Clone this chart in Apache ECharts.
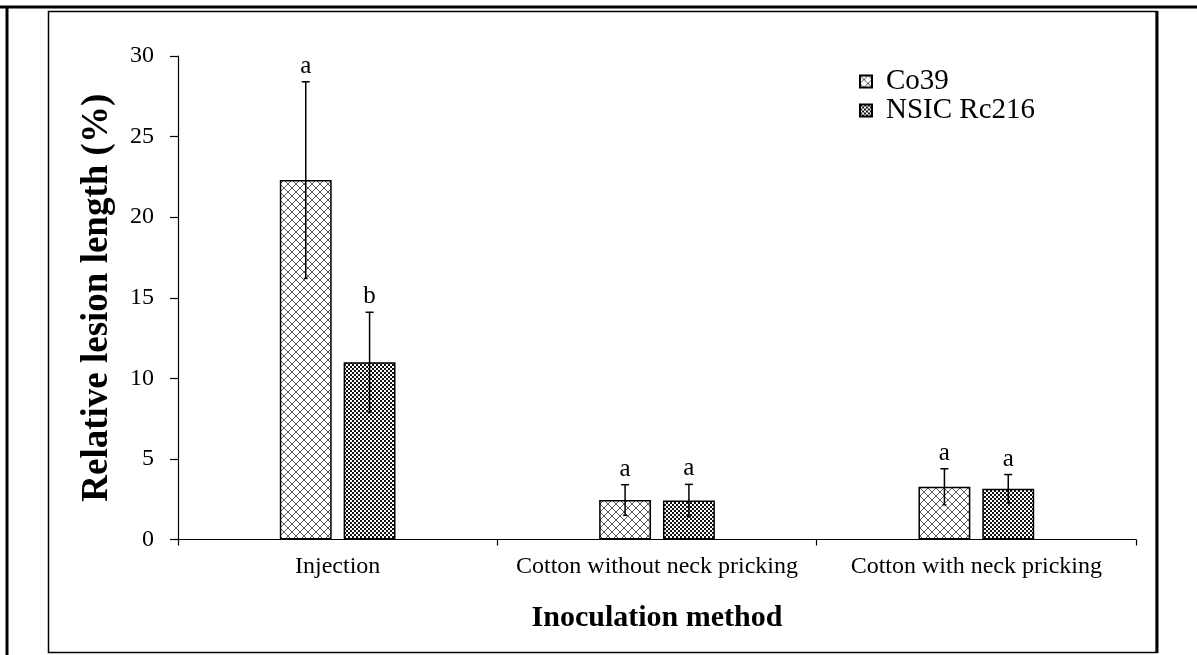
<!DOCTYPE html>
<html>
<head>
<meta charset="utf-8">
<script src="https://cdn.jsdelivr.net/npm/echarts@6/dist/echarts.min.js"></script>
<style>
html,body{margin:0;padding:0;background:#fff;}
#chart{width:1197px;height:655px;}
</style>
</head>
<body>
<div id="chart"></div>
<script>
// ---- data ----
var categories = ['Injection', 'Cotton without neck pricking', 'Cotton with neck pricking'];
var seriesNames = ['Co39', 'NSIC Rc216'];
var co39Values = [22.3, 2.45, 3.27];
var co39Errors = [6.1, 0.95, 1.12];
var co39Letters = ['a', 'a', 'a'];
var nsicValues = [11.0, 2.42, 3.15];
var nsicErrors = [3.1, 1.0, 0.88];
var nsicLetters = ['b', 'a', 'a'];
var yTicks = [0, 5, 10, 15, 20, 25, 30];

// ---- style constants ----
var BAR_W = 0.1625;   // bar width fraction of band
var GAP = 0.23;       // gap fraction of bar width
var SERIF = '"Liberation Serif", "DejaVu Serif", serif';

function makePattern(kind) {
  var c = document.createElement('canvas');
  var ctx = c.getContext('2d');
  if (kind === 'hatch') {
    c.width = 8; c.height = 8;
    ctx.fillStyle = '#fff'; ctx.fillRect(0, 0, 8, 8);
    ctx.strokeStyle = '#5a5a5a'; ctx.lineWidth = 1;
    ctx.beginPath();
    ctx.moveTo(0, 0); ctx.lineTo(8, 8);
    ctx.moveTo(8, 0); ctx.lineTo(0, 8);
    ctx.stroke();
  } else {
    c.width = 4; c.height = 4;
    ctx.fillStyle = '#fff'; ctx.fillRect(0, 0, 4, 4);
    ctx.fillStyle = '#111';
    ctx.fillRect(0, 0, 2, 2); ctx.fillRect(2, 2, 2, 2);
  }
  return { image: c, repeat: 'repeat' };
}
var pat1 = makePattern('hatch');
var pat2 = makePattern('check');

function errSeries(values, errors, letters, sign) {
  var data = values.map(function (v, i) { return [i, v, errors[i]]; });
  return {
    type: 'custom',
    silent: true,
    z: 10,
    data: data,
    renderItem: function (params, api) {
      var idx = api.value(0), v = api.value(1), e = api.value(2);
      var band = api.size([1, 0])[0];
      var bw = band * BAR_W;
      var off = sign * (bw + bw * GAP) / 2;
      var top = api.coord([idx, v + e]);
      var bot = api.coord([idx, v - e]);
      var x = top[0] + off;
      var cap = 4;
      var st = { stroke: '#000', lineWidth: 1.5 };
      return {
        type: 'group',
        children: [
          { type: 'line', shape: { x1: x, y1: top[1], x2: x, y2: bot[1] }, style: st },
          { type: 'line', shape: { x1: x - cap, y1: top[1], x2: x + cap, y2: top[1] }, style: st },
          { type: 'line', shape: { x1: x - 2, y1: bot[1], x2: x + 2, y2: bot[1] }, style: st },
          { type: 'text', x: x, y: top[1] - 3, style: {
              text: letters[idx], fill: '#000', font: '25px ' + SERIF,
              align: 'center', verticalAlign: 'bottom' } }
        ]
      };
    }
  };
}

var chart = echarts.init(document.getElementById('chart'), null, { renderer: 'canvas' });
chart.setOption({
  backgroundColor: '#fff',
  animation: false,
  textStyle: { fontFamily: SERIF },
  grid: { left: 178, right: 61, top: 56, bottom: 115.5 },
  legend: {
    orient: 'vertical',
    left: 854, top: 62,
    itemWidth: 12, itemHeight: 12,
    itemGap: 0,
    icon: 'rect',
    data: seriesNames,
    textStyle: { fontFamily: SERIF, fontSize: 29, lineHeight: 27, color: '#000', padding: [0, 0, 0, 9] }
  },
  xAxis: {
    type: 'category',
    data: categories,
    name: 'Inoculation method',
    nameLocation: 'middle',
    nameGap: 64,
    nameTextStyle: { fontFamily: SERIF, fontSize: 30, fontWeight: 'bold', color: '#000' },
    axisLine: { lineStyle: { color: '#000', width: 1.2 } },
    axisTick: { show: true, length: 6, lineStyle: { color: '#000', width: 1.2 } },
    axisLabel: { interval: 0, hideOverlap: false, fontFamily: SERIF, fontSize: 24, color: '#000', margin: 15 }
  },
  yAxis: {
    type: 'value',
    min: 0, max: 30, interval: 5,
    name: 'Relative lesion length (%)',
    nameLocation: 'middle',
    nameGap: 62,
    nameTextStyle: { fontFamily: SERIF, fontSize: 37, fontWeight: 'bold', color: '#000' },
    axisLine: { show: true, lineStyle: { color: '#000', width: 1.2 } },
    axisTick: { show: true, length: 8, lineStyle: { color: '#000', width: 1.2 } },
    splitLine: { show: false },
    axisLabel: { fontFamily: SERIF, fontSize: 24, color: '#000', margin: 24,
      formatter: function (v) { return yTicks.indexOf(v) >= 0 ? String(v) : ''; } }
  },
  series: [
    { name: seriesNames[0], type: 'bar', data: co39Values, barWidth: (BAR_W * 100) + '%', barGap: (GAP * 100) + '%',
      itemStyle: { color: pat1, borderColor: '#000', borderWidth: 1.5 } },
    { name: seriesNames[1], type: 'bar', data: nsicValues, barWidth: (BAR_W * 100) + '%',
      itemStyle: { color: pat2, borderColor: '#000', borderWidth: 1.5 } },
    errSeries(co39Values, co39Errors, co39Letters, -1),
    errSeries(nsicValues, nsicErrors, nsicLetters, 1)
  ],
  graphic: [
    { type: 'line', shape: { x1: 0, y1: 7, x2: 1197, y2: 7 }, style: { stroke: '#000', lineWidth: 3 } },
    { type: 'line', shape: { x1: 7, y1: 7, x2: 7, y2: 655 }, style: { stroke: '#000', lineWidth: 3 } },
    { type: 'rect', shape: { x: 48.5, y: 11.5, width: 1108, height: 641 }, style: { fill: null, stroke: '#000', lineWidth: 1.5 } },
    { type: 'line', shape: { x1: 1157, y1: 11, x2: 1157, y2: 653 }, style: { stroke: '#000', lineWidth: 3 } }
  ]
});
</script>
</body>
</html>
